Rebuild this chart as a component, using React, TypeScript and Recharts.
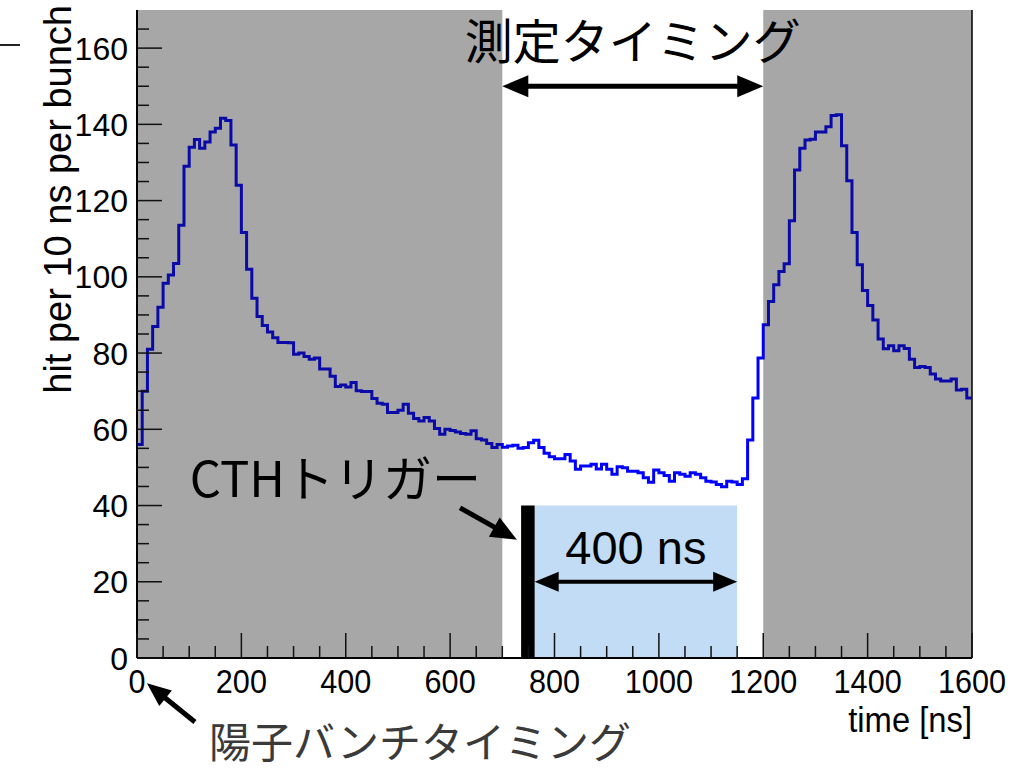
import React from "react";
import { LineChart, Line, XAxis, YAxis, ReferenceArea, ReferenceLine } from "recharts";

// hits per 10 ns bin (bin 0 = 0-10 ns ... bin 159 = 1590-1600 ns)
const hits = [
  56, 70, 81, 87, 92, 98.3, 100.5, 103.5, 113.5, 129,
  134, 136, 133.7, 135.4, 138, 139, 141.6, 141, 134.6, 124,
  111.6, 102, 94.4, 89.6, 87.2, 85.5, 84, 82.8, 82.8, 82.7,
  79.7, 80, 79.1, 78.4, 78.7, 75.8, 75.8, 73.9, 71.2, 71.6,
  71.1, 72.3, 70.1, 69.9, 69.9, 68.1, 66.8, 66.6, 64.4, 64.4,
  65, 66.6, 64.2, 62.8, 62.2, 63.1, 62.2, 60.2, 58.7, 60,
  59.7, 59.3, 58.9, 58.7, 59.6, 57.5, 57.2, 56.3, 55.2, 56,
  55.3, 55.6, 55.8, 55, 55.2, 56.5, 57.1, 55.2, 53.7, 52.8,
  52.3, 52.3, 53.4, 51.7, 49.5, 50.4, 50.4, 50.8, 49.6, 50.8,
  49.5, 48.2, 50.2, 49.9, 49, 49, 48.6, 47.3, 46.1, 49.3,
  48.6, 47.9, 46.4, 48.6, 48.2, 47.7, 48.6, 48.2, 47.3, 46.4,
  46.2, 45.5, 44.9, 46.4, 46.2, 45.5, 47, 57.2, 68.2, 78.7,
  87.4, 93.5, 97.9, 101.4, 103.4, 114.7, 128, 133.7, 135.9, 136.1,
  138, 138, 139.4, 142.3, 142.5, 134.4, 125.2, 111.6, 103.2, 96.4,
  92.5, 88.7, 83.7, 81.1, 81.9, 80.6, 81.9, 81.2, 78.4, 76.2,
  76.5, 76.2, 74.5, 73.2, 72.7, 72.7, 73.2, 70.3, 70.5, 68.2,
];
const binWidth = 10;

const xTicks = [0, 50, 100, 150, 200, 250, 300, 350, 400, 450, 500, 550, 600, 650, 700, 750, 800,
  850, 900, 950, 1000, 1050, 1100, 1150, 1200, 1250, 1300, 1350, 1400, 1450, 1500, 1550, 1600];
const yTicks = [0, 5, 10, 15, 20, 25, 30, 35, 40, 45, 50, 55, 60, 65, 70, 75, 80, 85, 90, 95, 100,
  105, 110, 115, 120, 125, 130, 135, 140, 145, 150, 155, 160, 165];

// shaded regions and annotation positions (ns / hits)
const beamWindows = [[0, 700], [1200, 1600]];
const measureWindow = [700, 1200];
const triggerBar = [736, 762];
const gateWindow = [762, 1150];
const gateHeight = 40;

const data = hits.map((h, i) => ({ t: i * binWidth, hits: h }));
data.push({ t: hits.length * binWidth, hits: hits[hits.length - 1] });

const latin = "'Liberation Sans', Helvetica, Arial, sans-serif";
const jp = "'Noto Sans CJK JP', sans-serif";

function YTick(props: any) {
  const { x, y, payload } = props;
  const major = payload.value % 20 === 0;
  return (
    <g>
      <line x1={x} x2={x + (major ? 25 : 12)} y1={y} y2={y} stroke="#111" strokeWidth={1.5} />
      {major && (
        <text x={x - 9} y={y} dy="0.36em" textAnchor="end" fontSize={32} fontFamily={latin} fill="#000">
          {payload.value}
        </text>
      )}
    </g>
  );
}

function XTick(props: any) {
  const { x, y, payload } = props;
  const major = payload.value % 200 === 0;
  return (
    <g>
      <line x1={x} x2={x} y1={y} y2={y - (major ? 25 : 12)} stroke="#111" strokeWidth={1.5} />
      {major && (
        <text
          transform={`translate(${x}, ${y + 35}) scale(0.9, 1)`}
          textAnchor="middle"
          fontSize={34}
          fontFamily={latin}
          fill="#000"
        >
          {payload.value}
        </text>
      )}
    </g>
  );
}

function head(xt: number, yt: number, ux: number, uy: number, len: number, half: number) {
  const bx = xt - ux * len;
  const by = yt - uy * len;
  return `${xt},${yt} ${bx - uy * half},${by + ux * half} ${bx + uy * half},${by - ux * half}`;
}

function Arrow(props: any) {
  const { x1, y1, x2, y2, both, width = 5, len = 26, half = 11, children } = props;
  const dx = x2 - x1;
  const dy = y2 - y1;
  const d = Math.sqrt(dx * dx + dy * dy) || 1;
  const ux = dx / d;
  const uy = dy / d;
  const sx = both ? x1 + ux * len * 0.8 : x1;
  const sy = both ? y1 + uy * len * 0.8 : y1;
  const ex = x2 - ux * len * 0.8;
  const ey = y2 - uy * len * 0.8;
  return (
    <g>
      <line x1={sx} y1={sy} x2={ex} y2={ey} stroke="#000" strokeWidth={width} />
      <polygon points={head(x2, y2, ux, uy, len, half)} fill="#000" />
      {both && <polygon points={head(x1, y1, -ux, -uy, len, half)} fill="#000" />}
      {children}
    </g>
  );
}

export default function App() {
  return (
    <div style={{ position: "absolute", left: 0, top: 0, width: 1021, height: 770, background: "#fff" }}>
      <div style={{ position: "absolute", left: 0, top: 44, width: 20, height: 1.5, background: "#222" }} />
      <LineChart width={1021} height={770} data={data} margin={{ top: 10, right: 49, bottom: 72, left: 37 }}>
        <defs>
          <linearGradient id="histStroke" x1="0" y1="0" x2="1" y2="0">
            <stop offset="0" stopColor="#0a0aa8" />
            <stop offset={measureWindow[0] / 1600} stopColor="#0a0aa8" />
            <stop offset={measureWindow[0] / 1600} stopColor="#0000ff" />
            <stop offset={measureWindow[1] / 1600} stopColor="#0000ff" />
            <stop offset={measureWindow[1] / 1600} stopColor="#0a0aa8" />
            <stop offset="1" stopColor="#0a0aa8" />
          </linearGradient>
        </defs>
        {beamWindows.map(([a, b]) => (
          <ReferenceArea key={a} x1={a} x2={b} y1={0} y2={170} fill="#a7a7a7" fillOpacity={1} stroke="none" />
        ))}
        <ReferenceArea x1={gateWindow[0]} x2={gateWindow[1]} y1={0} y2={gateHeight} fill="#c1dcf4" fillOpacity={1} stroke="none" />
        <ReferenceArea x1={triggerBar[0]} x2={triggerBar[1]} y1={0} y2={gateHeight} fill="#000" fillOpacity={1} stroke="none" />
        <ReferenceLine x={1600} stroke="#000" strokeWidth={1.5} />
        <XAxis
          dataKey="t"
          type="number"
          domain={[0, 1600]}
          ticks={xTicks}
          interval={0}
          height={40}
          tickSize={0}
          tickMargin={0}
          tickLine={false}
          axisLine={{ stroke: "#000", strokeWidth: 2 }}
          tick={<XTick />}
          label={{
            content: (p: any) => {
              const vb = p.viewBox;
              return (
                <text
                  transform={`translate(${vb.x + vb.width}, ${vb.y + vb.height + 34}) scale(0.95, 1)`}
                  textAnchor="end"
                  fontSize={34.5}
                  fontFamily={latin}
                  fill="#000"
                >
                  time [ns]
                </text>
              );
            },
          }}
        />
        <YAxis
          type="number"
          domain={[0, 170]}
          ticks={yTicks}
          interval={0}
          width={100}
          tickSize={0}
          tickMargin={0}
          tickLine={false}
          axisLine={{ stroke: "#000", strokeWidth: 2 }}
          tick={<YTick />}
          label={{
            content: (p: any) => {
              const vb = p.viewBox;
              return (
                <text
                  transform={`translate(${vb.x + 34}, ${vb.y - 5}) rotate(-90)`}
                  textAnchor="end"
                  fontSize={38}
                  fontFamily={latin}
                  fill="#000"
                >
                  hit per 10 ns per bunch
                </text>
              );
            },
          }}
        />
        <Line
          type="stepAfter"
          dataKey="hits"
          stroke="url(#histStroke)"
          strokeWidth={3}
          dot={false}
          isAnimationActive={false}
        />
        <ReferenceLine
          segment={[{ x: measureWindow[0], y: 150 }, { x: measureWindow[1], y: 150 }]}
          ifOverflow="visible"
          shape={(p: any) => (
            <Arrow {...p} both>
              <text x={(p.x1 + p.x2) / 2} y={p.y1 - 27} textAnchor="middle" fontSize={48} fontFamily={jp} fill="#000">
                測定タイミング
              </text>
            </Arrow>
          )}
        />
        <ReferenceLine
          segment={[{ x: gateWindow[0], y: 20 }, { x: gateWindow[1], y: 20 }]}
          ifOverflow="visible"
          shape={(p: any) => (
            <Arrow {...p} both width={4} len={24} half={10}>
              <text x={(p.x1 + p.x2) / 2} y={p.y1 - 18} textAnchor="middle" fontSize={47} fontFamily={latin} fill="#000">
                400 ns
              </text>
            </Arrow>
          )}
        />
        <ReferenceLine
          segment={[{ x: 619, y: 39.4 }, { x: 728, y: 31 }]}
          ifOverflow="visible"
          shape={(p: any) => (
            <Arrow {...p} width={5} len={26} half={11}>
              <text x={p.x1 + 21} y={p.y1 - 11} textAnchor="end" fontSize={49} fontFamily={jp} fill="#000">
                CTHトリガー
              </text>
            </Arrow>
          )}
        />
        <ReferenceLine
          segment={[{ x: 111, y: -16.8 }, { x: 19, y: -6.6 }]}
          ifOverflow="visible"
          shape={(p: any) => (
            <Arrow {...p} width={5} len={24} half={10}>
              <text x={p.x1 + 14} y={p.y1 + 36} textAnchor="start" fontSize={42} fontFamily={jp} fill="#3a3a3a">
                陽子バンチタイミング
              </text>
            </Arrow>
          )}
        />
      </LineChart>
    </div>
  );
}
